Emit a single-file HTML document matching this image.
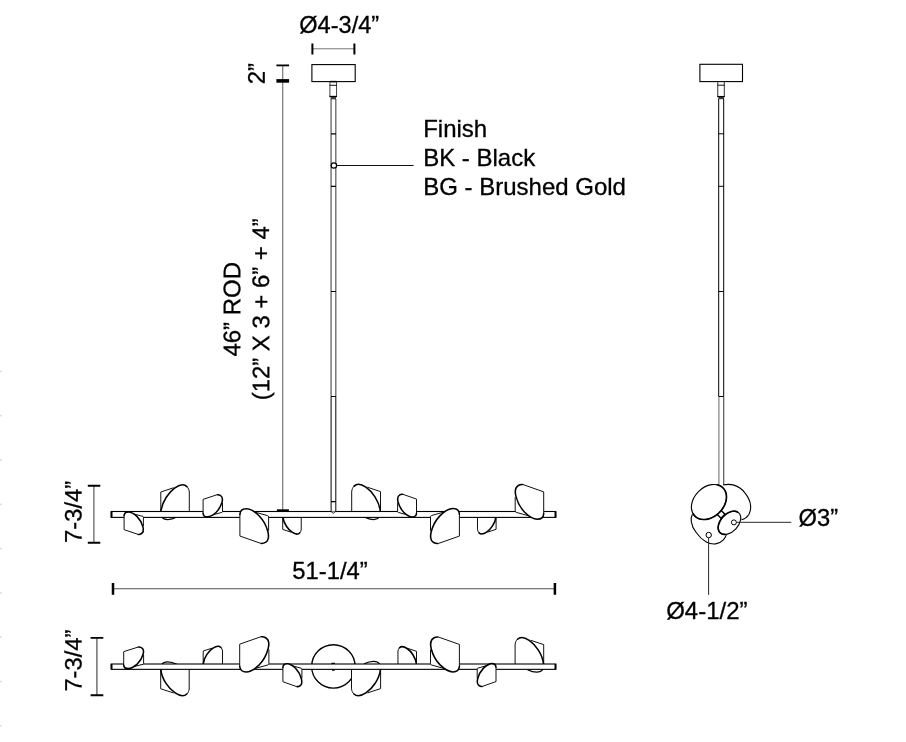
<!DOCTYPE html>
<html lang="en">
<head>
<meta charset="utf-8">
<title>Dimension drawing</title>
<style>
html,body{margin:0;padding:0;background:#fff;}
body{width:906px;height:742px;overflow:hidden;}
svg{display:block;will-change:transform;}
text{font-family:"Liberation Sans",sans-serif;font-size:24px;fill:#000;stroke:#000;stroke-width:0.3px;}
</style>
</head>
<body>
<svg width="906" height="742" viewBox="0 0 906 742">
<rect width="906" height="742" fill="#fff"/>
<rect x="0" y="370.6" width="1.6" height="1.6" fill="#d3d9e0"/><rect x="0" y="414.9" width="1.6" height="1.6" fill="#d3d9e0"/><rect x="0" y="459.2" width="1.6" height="1.6" fill="#d3d9e0"/><rect x="0" y="503.5" width="1.6" height="1.6" fill="#d3d9e0"/><rect x="0" y="547.8" width="1.6" height="1.6" fill="#d3d9e0"/><rect x="0" y="592.1" width="1.6" height="1.6" fill="#d3d9e0"/><rect x="0" y="636.4" width="1.6" height="1.6" fill="#d3d9e0"/><rect x="0" y="680.7" width="1.6" height="1.6" fill="#d3d9e0"/><rect x="0" y="725.0" width="1.6" height="1.6" fill="#d3d9e0"/>
<rect x="311.9" y="64.6" width="43.3" height="17" fill="#fff" stroke="#000" stroke-width="1.1"/>
<path d="M329.9 82V96.5M336.55 82V96.5" stroke="#444" stroke-width="1" fill="none"/>
<path d="M329.6 85.3H336.9" stroke="#111" stroke-width="1" fill="none"/>
<path d="M329.4 96.5H337" stroke="#000" stroke-width="1.3" fill="none"/>
<rect x="330.6" y="97" width="5.4" height="2.3" fill="#3a3a3a"/>
<path d="M330.2 81.6H336.6" stroke="#000" stroke-width="1.5" fill="none"/>
<path d="M331.05 99V396.5M335.85 99V396.5" stroke="#111" stroke-width="0.85" fill="none"/>
<path d="M331.1 396.5V511.5M335.8 396.5V511.5" stroke="#111" stroke-width="1.05" fill="none"/>
<path d="M331 133.8H336M331 186.3H336M331 291.5H336M331 396.5H336M331 501.6H336" stroke="#000" stroke-width="1.2" fill="none"/>
<path d="M160.80 492.00L173.75 487.70C177.74 486.00 180.23 484.80 182.62 484.80C186.21 484.80 188.90 487.80 189.30 492.00L189.30 514.80L176.74 517.10C173.56 518.60 170.77 519.40 167.28 519.40C164.39 519.40 162.39 518.40 161.40 516.60L160.80 513.80Z" fill="#fff" stroke="none"/>
<path d="M160.80 511.80L160.80 492.00L173.75 487.70 M186.91 486.60C188.30 487.90 189.10 489.80 189.30 492.00 M189.30 491.80L189.30 511.80" fill="none" stroke="#111" stroke-width="1.0"/>
<path d="M161.70 516.80C162.99 518.80 164.79 519.50 167.78 519.50C171.06 519.50 173.75 518.60 176.94 517.00" fill="none" stroke="#000" stroke-width="1.25"/>
<path d="M160.90 511.80C161.40 506.80 163.59 501.30 166.28 497.20C168.77 493.30 172.26 489.80 175.25 487.70C177.74 486.00 180.23 484.80 182.62 484.80C184.32 484.80 185.81 485.50 186.91 486.60" fill="none" stroke="#000" stroke-width="1.55" stroke-linecap="round"/>
<path d="M282.70 529.39L291.13 532.20C293.72 533.31 295.34 534.10 296.89 534.10C299.23 534.10 300.98 532.14 301.24 529.39L301.24 514.47L293.07 512.97C291.00 511.99 289.18 511.47 286.91 511.47C285.03 511.47 283.74 512.12 283.09 513.30L282.70 515.13Z" fill="#fff" stroke="none"/>
<path d="M282.70 516.44L282.70 529.39L291.13 532.20 M299.68 532.92C300.59 532.07 301.11 530.83 301.24 529.39 M301.24 529.52L301.24 516.44" fill="none" stroke="#111" stroke-width="1.0"/>
<path d="M282.76 516.44C283.09 519.71 284.51 523.31 286.26 525.99C287.88 528.54 290.15 530.83 292.10 532.20C293.72 533.31 295.34 534.10 296.89 534.10C297.99 534.10 298.97 533.64 299.68 532.92" fill="none" stroke="#000" stroke-width="1.55" stroke-linecap="round"/>
<path d="M380.50 491.60L367.41 487.24C363.38 485.52 360.86 484.30 358.45 484.30C354.82 484.30 352.10 487.34 351.70 491.60L351.70 514.73L364.39 517.07C367.61 518.59 370.43 519.40 373.95 519.40C376.87 519.40 378.89 518.38 379.90 516.56L380.50 513.72Z" fill="#fff" stroke="none"/>
<path d="M380.50 511.69L380.50 491.60L367.41 487.24 M354.12 486.13C352.71 487.44 351.90 489.37 351.70 491.60 M351.70 491.40L351.70 511.69" fill="none" stroke="#111" stroke-width="1.0"/>
<path d="M379.59 516.76C378.28 518.79 376.47 519.50 373.45 519.50C370.13 519.50 367.41 518.59 364.19 516.96" fill="none" stroke="#000" stroke-width="1.25"/>
<path d="M380.40 511.69C379.90 506.62 377.68 501.04 374.96 496.88C372.44 492.92 368.92 489.37 365.90 487.24C363.38 485.52 360.86 484.30 358.45 484.30C356.74 484.30 355.23 485.01 354.12 486.13" fill="none" stroke="#000" stroke-width="1.55" stroke-linecap="round"/>
<path d="M496.10 529.31L487.63 532.11C485.02 533.22 483.39 534.00 481.83 534.00C479.49 534.00 477.73 532.05 477.47 529.31L477.47 514.46L485.67 512.96C487.76 511.99 489.58 511.47 491.86 511.47C493.75 511.47 495.06 512.12 495.71 513.29L496.10 515.11Z" fill="#fff" stroke="none"/>
<path d="M496.10 516.41L496.10 529.31L487.63 532.11 M479.03 532.83C478.12 531.98 477.60 530.74 477.47 529.31 M477.47 529.44L477.47 516.41" fill="none" stroke="#111" stroke-width="1.0"/>
<path d="M496.03 516.41C495.71 519.67 494.28 523.25 492.52 525.92C490.89 528.46 488.61 530.74 486.65 532.11C485.02 533.22 483.39 534.00 481.83 534.00C480.72 534.00 479.75 533.54 479.03 532.83" fill="none" stroke="#000" stroke-width="1.55" stroke-linecap="round"/>
<rect x="111.2" y="511.5" width="444.6" height="5.899999999999977" fill="#fff" stroke="#000" stroke-width="1.1"/><path d="M111.6 511.5V517.4M555.4 511.5V517.4" stroke="#000" stroke-width="1.8" fill="none"/>
<path d="M331 511.5L333.3 513.3L335.6 511.5" stroke="#111" stroke-width="0.9" fill="#fff"/>
<path d="M124.10 515.55C124.23 513.33 125.98 511.90 128.37 511.90C130.49 511.90 132.51 512.94 133.92 513.98L142.73 516.36Q143.40 516.56 143.40 517.24L143.40 528.18C143.74 530.01 143.27 532.61 141.25 533.78C140.37 534.30 139.57 534.50 138.42 534.43L124.10 529.65Z" fill="#fff" stroke="none"/>
<path d="M124.10 515.42L124.10 529.65L138.09 534.40 M133.92 513.98L142.73 516.36Q143.40 516.56 143.40 517.24L143.40 526.23" fill="none" stroke="#111" stroke-width="1.0"/>
<path d="M124.10 515.55C124.23 513.33 125.98 511.90 128.37 511.90C131.16 511.90 134.52 514.05 137.15 516.59C139.57 519.06 141.99 523.30 142.93 526.88C143.74 530.01 143.27 532.61 141.25 533.78C140.37 534.30 139.57 534.50 138.42 534.43" fill="none" stroke="#000" stroke-width="1.55" stroke-linecap="round"/>
<path d="M203.10 513.22C203.24 515.39 204.99 516.80 207.39 516.80C209.52 516.80 211.55 515.78 212.97 514.75L221.82 512.42Q222.50 512.23 222.50 511.55L222.50 500.81C222.84 499.01 222.36 496.46 220.34 495.30C219.46 494.79 218.65 494.60 217.50 494.66L203.10 499.37Z" fill="#fff" stroke="none"/>
<path d="M203.10 513.35L203.10 499.37L217.16 494.70 M212.97 514.75L221.82 512.42Q222.50 512.23 222.50 511.55L222.50 502.73" fill="none" stroke="#111" stroke-width="1.0"/>
<path d="M203.10 513.22C203.24 515.39 204.99 516.80 207.39 516.80C210.20 516.80 213.58 514.69 216.21 512.19C218.65 509.76 221.08 505.60 222.03 502.09C222.84 499.01 222.36 496.46 220.34 495.30C219.46 494.79 218.65 494.60 217.50 494.66" fill="none" stroke="#000" stroke-width="1.55" stroke-linecap="round"/>
<path d="M239.90 514.40C240.10 511.00 242.70 508.80 246.25 508.80C249.40 508.80 252.40 510.40 254.50 512.00L267.60 515.65Q268.60 515.95 268.60 517.00L268.60 533.80C269.10 536.60 268.40 540.60 265.40 542.40C264.10 543.20 262.90 543.50 261.20 543.40L239.90 536.05Z" fill="#fff" stroke="none"/>
<path d="M239.90 514.20L239.90 536.05L260.70 543.35 M254.50 512.00L267.60 515.65Q268.60 515.95 268.60 517.00L268.60 530.80" fill="none" stroke="#111" stroke-width="1.0"/>
<path d="M239.90 514.40C240.10 511.00 242.70 508.80 246.25 508.80C250.40 508.80 255.40 512.10 259.30 516.00C262.90 519.80 266.50 526.30 267.90 531.80C269.10 536.60 268.40 540.60 265.40 542.40C264.10 543.20 262.90 543.50 261.20 543.40" fill="none" stroke="#000" stroke-width="1.55" stroke-linecap="round"/>
<path d="M416.50 513.24C416.37 515.46 414.66 516.90 412.32 516.90C410.24 516.90 408.27 515.85 406.89 514.81L398.26 512.42Q397.60 512.22 397.60 511.54L397.60 500.55C397.27 498.71 397.73 496.10 399.71 494.92C400.56 494.40 401.35 494.20 402.47 494.27L416.50 499.07Z" fill="#fff" stroke="none"/>
<path d="M416.50 513.37L416.50 499.07L402.80 494.30 M406.89 514.81L398.26 512.42Q397.60 512.22 397.60 511.54L397.60 502.51" fill="none" stroke="#111" stroke-width="1.0"/>
<path d="M416.50 513.24C416.37 515.46 414.66 516.90 412.32 516.90C409.59 516.90 406.29 514.74 403.72 512.19C401.35 509.70 398.98 505.45 398.06 501.85C397.27 498.71 397.73 496.10 399.71 494.92C400.56 494.40 401.35 494.20 402.47 494.27" fill="none" stroke="#000" stroke-width="1.55" stroke-linecap="round"/>
<path d="M459.40 514.25C459.20 510.82 456.58 508.60 453.01 508.60C449.83 508.60 446.81 510.21 444.70 511.83L431.51 515.51Q430.50 515.81 430.50 516.87L430.50 533.82C430.00 536.64 430.70 540.67 433.72 542.49C435.03 543.30 436.24 543.60 437.95 543.50L459.40 536.09Z" fill="#fff" stroke="none"/>
<path d="M459.40 514.05L459.40 536.09L438.46 543.45 M444.70 511.83L431.51 515.51Q430.50 515.81 430.50 516.87L430.50 530.79" fill="none" stroke="#111" stroke-width="1.0"/>
<path d="M459.40 514.25C459.20 510.82 456.58 508.60 453.01 508.60C448.83 508.60 443.79 511.93 439.86 515.86C436.24 519.70 432.61 526.25 431.20 531.80C430.00 536.64 430.70 540.67 433.72 542.49C435.03 543.30 436.24 543.60 437.95 543.50" fill="none" stroke="#000" stroke-width="1.55" stroke-linecap="round"/>
<path d="M543.70 513.58C543.50 516.99 540.92 519.20 537.39 519.20C534.27 519.20 531.29 517.60 529.20 515.99L516.19 512.33Q515.20 512.03 515.20 510.98L515.20 494.13C514.70 491.32 515.40 487.31 518.38 485.50C519.67 484.70 520.86 484.40 522.55 484.50L543.70 491.87Z" fill="#fff" stroke="none"/>
<path d="M543.70 513.78L543.70 491.87L523.04 484.55 M529.20 515.99L516.19 512.33Q515.20 512.03 515.20 510.98L515.20 497.14" fill="none" stroke="#111" stroke-width="1.0"/>
<path d="M543.70 513.58C543.50 516.99 540.92 519.20 537.39 519.20C533.27 519.20 528.31 515.89 524.44 511.98C520.86 508.17 517.29 501.65 515.90 496.13C514.70 491.32 515.40 487.31 518.38 485.50C519.67 484.70 520.86 484.40 522.55 484.50" fill="none" stroke="#000" stroke-width="1.55" stroke-linecap="round"/>
<circle cx="333.4" cy="666.4" r="21.7" fill="none" stroke="#000" stroke-width="1.35"/>
<path d="M160.70 688.77L173.65 692.97C177.64 694.63 180.13 695.80 182.52 695.80C186.11 695.80 188.80 692.87 189.20 688.77L189.20 666.49L176.64 664.24C173.46 662.78 170.67 662.00 167.18 662.00C164.29 662.00 162.29 662.97 161.30 664.73L160.70 667.47Z" fill="#fff" stroke="none"/>
<path d="M160.70 669.42L160.70 688.77L173.65 692.97 M186.81 694.04C188.20 692.77 189.00 690.92 189.20 688.77 M189.20 688.96L189.20 669.42" fill="none" stroke="#111" stroke-width="1.0"/>
<path d="M161.60 664.54C162.89 662.58 164.69 661.90 167.68 661.90C170.96 661.90 173.65 662.78 176.84 664.34" fill="none" stroke="#000" stroke-width="1.25"/>
<path d="M160.80 669.42C161.30 674.31 163.49 679.68 166.18 683.69C168.67 687.50 172.16 690.92 175.15 692.97C177.64 694.63 180.13 695.80 182.52 695.80C184.22 695.80 185.71 695.12 186.81 694.04" fill="none" stroke="#000" stroke-width="1.55" stroke-linecap="round"/>
<path d="M203.20 651.01L211.99 648.20C214.69 647.09 216.38 646.30 218.00 646.30C220.44 646.30 222.26 648.26 222.53 651.01L222.53 665.93L214.02 667.43C211.85 668.41 209.96 668.93 207.59 668.93C205.63 668.93 204.28 668.28 203.61 667.10L203.20 665.27Z" fill="#fff" stroke="none"/>
<path d="M203.20 663.96L203.20 651.01L211.99 648.20 M220.91 647.48C221.86 648.33 222.40 649.57 222.53 651.01 M222.53 650.88L222.53 663.96" fill="none" stroke="#111" stroke-width="1.0"/>
<path d="M203.27 663.96C203.61 660.69 205.09 657.09 206.92 654.41C208.61 651.86 210.97 649.57 213.00 648.20C214.69 647.09 216.38 646.30 218.00 646.30C219.15 646.30 220.17 646.76 220.91 647.48" fill="none" stroke="#000" stroke-width="1.55" stroke-linecap="round"/>
<path d="M380.60 688.64L367.37 692.92C363.30 694.61 360.76 695.80 358.32 695.80C354.66 695.80 351.91 692.82 351.50 688.64L351.50 665.97L364.32 663.69C367.58 662.19 370.43 661.40 373.99 661.40C376.94 661.40 378.97 662.39 379.99 664.18L380.60 666.97Z" fill="#fff" stroke="none"/>
<path d="M380.60 668.96L380.60 688.64L367.37 692.92 M353.94 694.01C352.52 692.72 351.71 690.83 351.50 688.64 M351.50 688.84L351.50 668.96" fill="none" stroke="#111" stroke-width="1.0"/>
<path d="M379.68 663.98C378.36 662.00 376.53 661.30 373.48 661.30C370.12 661.30 367.37 662.19 364.12 663.79" fill="none" stroke="#000" stroke-width="1.25"/>
<path d="M380.50 668.96C379.99 673.93 377.75 679.40 375.00 683.47C372.46 687.35 368.90 690.83 365.85 692.92C363.30 694.61 360.76 695.80 358.32 695.80C356.59 695.80 355.06 695.10 353.94 694.01" fill="none" stroke="#000" stroke-width="1.55" stroke-linecap="round"/>
<path d="M416.50 651.31L408.07 648.50C405.48 647.39 403.86 646.60 402.31 646.60C399.97 646.60 398.22 648.56 397.96 651.31L397.96 666.23L406.13 667.73C408.20 668.71 410.02 669.23 412.29 669.23C414.17 669.23 415.46 668.58 416.11 667.40L416.50 665.57Z" fill="#fff" stroke="none"/>
<path d="M416.50 664.26L416.50 651.31L408.07 648.50 M399.52 647.78C398.61 648.63 398.09 649.87 397.96 651.31 M397.96 651.18L397.96 664.26" fill="none" stroke="#111" stroke-width="1.0"/>
<path d="M416.44 664.26C416.11 660.99 414.69 657.39 412.94 654.71C411.32 652.16 409.05 649.87 407.10 648.50C405.48 647.39 403.86 646.60 402.31 646.60C401.21 646.60 400.23 647.06 399.52 647.78" fill="none" stroke="#000" stroke-width="1.55" stroke-linecap="round"/>
<path d="M543.70 644.62L530.70 640.31C526.70 638.60 524.20 637.40 521.80 637.40C518.20 637.40 515.50 640.41 515.10 644.62L515.10 667.49L527.70 669.79C530.90 671.30 533.70 672.10 537.20 672.10C540.10 672.10 542.10 671.10 543.10 669.29L543.70 666.48Z" fill="#fff" stroke="none"/>
<path d="M543.70 664.48L543.70 644.62L530.70 640.31 M517.50 639.21C516.10 640.51 515.30 642.41 515.10 644.62 M515.10 644.42L515.10 664.48" fill="none" stroke="#111" stroke-width="1.0"/>
<path d="M542.80 669.49C541.50 671.50 539.70 672.20 536.70 672.20C533.40 672.20 530.70 671.30 527.50 669.69" fill="none" stroke="#000" stroke-width="1.25"/>
<path d="M543.60 664.48C543.10 659.46 540.90 653.95 538.20 649.84C535.70 645.92 532.20 642.41 529.20 640.31C526.70 638.60 524.20 637.40 521.80 637.40C520.10 637.40 518.60 638.10 517.50 639.21" fill="none" stroke="#000" stroke-width="1.55" stroke-linecap="round"/>
<rect x="111.2" y="664.0" width="444.6" height="5.350000000000023" fill="#fff" stroke="#000" stroke-width="1.1"/><path d="M111.6 664.0V669.35M555.4 664.0V669.35" stroke="#000" stroke-width="1.8" fill="none"/>
<path d="M331.5 663.4H335M332 670.2H334.6" stroke="#000" stroke-width="1.2" fill="none"/>
<path d="M123.70 665.11C123.84 667.23 125.64 668.60 128.10 668.60C130.29 668.60 132.37 667.60 133.82 666.61L142.91 664.34Q143.60 664.15 143.60 663.50L143.60 653.04C143.95 651.30 143.46 648.81 141.38 647.68C140.48 647.19 139.65 647.00 138.47 647.06L123.70 651.64Z" fill="#fff" stroke="none"/>
<path d="M123.70 665.24L123.70 651.64L138.12 647.09 M133.82 666.61L142.91 664.34Q143.60 664.15 143.60 663.50L143.60 654.91" fill="none" stroke="#111" stroke-width="1.0"/>
<path d="M123.70 665.11C123.84 667.23 125.64 668.60 128.10 668.60C130.98 668.60 134.45 666.55 137.15 664.12C139.65 661.75 142.14 657.71 143.11 654.28C143.95 651.30 143.46 648.81 141.38 647.68C140.48 647.19 139.65 647.00 138.47 647.06" fill="none" stroke="#000" stroke-width="1.55" stroke-linecap="round"/>
<path d="M239.70 666.20C239.90 669.66 242.55 671.90 246.16 671.90C249.37 671.90 252.42 670.27 254.55 668.64L267.88 664.93Q268.90 664.63 268.90 663.56L268.90 646.47C269.41 643.62 268.70 639.55 265.64 637.72C264.32 636.91 263.10 636.60 261.37 636.70L239.70 644.18Z" fill="#fff" stroke="none"/>
<path d="M239.70 666.41L239.70 644.18L260.86 636.75 M254.55 668.64L267.88 664.93Q268.90 664.63 268.90 663.56L268.90 649.52" fill="none" stroke="#111" stroke-width="1.0"/>
<path d="M239.70 666.20C239.90 669.66 242.55 671.90 246.16 671.90C250.38 671.90 255.47 668.54 259.44 664.58C263.10 660.71 266.76 654.10 268.19 648.50C269.41 643.62 268.70 639.55 265.64 637.72C264.32 636.91 263.10 636.60 261.37 636.70" fill="none" stroke="#000" stroke-width="1.55" stroke-linecap="round"/>
<path d="M282.90 667.41C283.03 665.16 284.75 663.70 287.10 663.70C289.19 663.70 291.18 664.76 292.57 665.82L301.24 668.24Q301.90 668.44 301.90 669.14L301.90 680.27C302.23 682.13 301.77 684.78 299.78 685.97C298.92 686.50 298.13 686.70 297.00 686.63L282.90 681.76Z" fill="#fff" stroke="none"/>
<path d="M282.90 667.28L282.90 681.76L296.67 686.60 M292.57 665.82L301.24 668.24Q301.90 668.44 301.90 669.14L301.90 678.28" fill="none" stroke="#111" stroke-width="1.0"/>
<path d="M282.90 667.41C283.03 665.16 284.75 663.70 287.10 663.70C289.85 663.70 293.16 665.89 295.74 668.47C298.13 670.99 300.51 675.30 301.44 678.94C302.23 682.13 301.77 684.78 299.78 685.97C298.92 686.50 298.13 686.70 297.00 686.63" fill="none" stroke="#000" stroke-width="1.55" stroke-linecap="round"/>
<path d="M459.40 666.25C459.20 669.68 456.58 671.90 453.01 671.90C449.83 671.90 446.81 670.29 444.70 668.67L431.51 664.99Q430.50 664.69 430.50 663.63L430.50 646.68C430.00 643.86 430.70 639.83 433.72 638.01C435.03 637.20 436.24 636.90 437.95 637.00L459.40 644.41Z" fill="#fff" stroke="none"/>
<path d="M459.40 666.45L459.40 644.41L438.46 637.05 M444.70 668.67L431.51 664.99Q430.50 664.69 430.50 663.63L430.50 649.71" fill="none" stroke="#111" stroke-width="1.0"/>
<path d="M459.40 666.25C459.20 669.68 456.58 671.90 453.01 671.90C448.83 671.90 443.79 668.57 439.86 664.64C436.24 660.80 432.61 654.25 431.20 648.70C430.00 643.86 430.70 639.83 433.72 638.01C435.03 637.20 436.24 636.90 437.95 637.00" fill="none" stroke="#000" stroke-width="1.55" stroke-linecap="round"/>
<path d="M496.00 667.30C495.87 665.05 494.17 663.60 491.84 663.60C489.78 663.60 487.81 664.66 486.44 665.71L477.86 668.12Q477.20 668.32 477.20 669.01L477.20 680.10C476.87 681.95 477.33 684.59 479.30 685.77C480.15 686.30 480.93 686.50 482.05 686.43L496.00 681.58Z" fill="#fff" stroke="none"/>
<path d="M496.00 667.16L496.00 681.58L482.37 686.40 M486.44 665.71L477.86 668.12Q477.20 668.32 477.20 669.01L477.20 678.12" fill="none" stroke="#111" stroke-width="1.0"/>
<path d="M496.00 667.30C495.87 665.05 494.17 663.60 491.84 663.60C489.12 663.60 485.85 665.78 483.29 668.35C480.93 670.86 478.58 675.15 477.66 678.78C476.87 681.95 477.33 684.59 479.30 685.77C480.15 686.30 480.93 686.50 482.05 686.43" fill="none" stroke="#000" stroke-width="1.55" stroke-linecap="round"/>
<rect x="699.9" y="64.3" width="42.6" height="17.3" fill="#fff" stroke="#000" stroke-width="1.1"/>
<path d="M717.75 82V96.5M724.3 82V96.5" stroke="#333" stroke-width="1" fill="none"/>
<path d="M717.4 85.2H724.7" stroke="#111" stroke-width="1" fill="none"/>
<path d="M717.2 96.6H724.8" stroke="#000" stroke-width="1.3" fill="none"/>
<rect x="718.4" y="97" width="5.6" height="2.2" fill="#333"/>
<path d="M718.7 99V396.5M723.7 99V396.5" stroke="#000" stroke-width="1" fill="none"/>
<path d="M718.9 396.5V485" stroke="#8a8a8a" stroke-width="1.3" fill="none"/>
<path d="M723.75 396.5V485" stroke="#333" stroke-width="1" fill="none"/>
<path d="M718.7 133.8H723.7M718.7 186.3H723.7M718.7 291.5H723.7M718.7 396.5H723.7" stroke="#000" stroke-width="1" fill="none"/>
<path d="M723.1 485C727 484.2 731 484.3 733.9 485.1C738.5 486.5 742.3 489.5 744.7 492.6C748 496.6 750.3 501.5 750.6 505.6C750.9 509 750.2 512 749 514.2C747.3 517 744.5 519 741.5 519.8" fill="#fff" stroke="#000" stroke-width="1.1"/>
<path d="M692.4 514.2C691.2 516.5 690.9 519.3 691.3 521.8C691.9 525.5 693.6 529.3 696.2 532.5C698.8 536.2 702 539.5 705.9 541.7C709 543.4 712.4 544.3 715.6 543.9C718.7 543.5 721.3 542 723.1 540.1C724.7 538.5 725.8 536.6 726.4 534.7" fill="#fff" stroke="#000" stroke-width="1.1"/>
<rect x="-2.8" y="-2.8" width="5.6" height="5.6" transform="translate(721 514.2) rotate(-45)" fill="#fff" stroke="#000" stroke-width="1.45"/>
<ellipse cx="708.95" cy="502" rx="19.9" ry="14.8" transform="rotate(-45 708.95 502)" fill="#fff" stroke="#000" stroke-width="1.1"/>
<path d="M717.28 484.82L718.69 485.23L720.01 485.79L721.24 486.48L722.36 487.32L723.36 488.28L724.23 489.36L724.97 490.56L725.57 491.85L726.02 493.24L726.32 494.70L726.47 496.22L726.46 497.80L726.31 499.41L725.99 501.05L725.53 502.69L724.93 504.33L724.18 505.95L723.30 507.53L722.29 509.07L721.16 510.54L719.93 511.94L718.60 513.25L717.19 514.46L715.70 515.56L714.15 516.54L712.56 517.40L710.94 518.11L709.30 518.69L707.65 519.12L706.02 519.40L704.42 519.53L702.85 519.50L701.34 519.32L699.89 518.99L698.52 518.50L697.25 517.88L696.08 517.11L695.02 516.21L694.08 515.18L693.28 514.04" fill="none" stroke="#000" stroke-width="1.6" stroke-linecap="round"/>
<ellipse cx="729.45" cy="522.8" rx="13.6" ry="8.8" transform="rotate(-47 729.45 522.8)" fill="#fff" stroke="#000" stroke-width="1.15"/>
<path d="M724.64 534.41L723.76 534.35L722.94 534.20L722.16 533.96L721.43 533.64L720.77 533.23L720.17 532.75L719.65 532.19L719.20 531.55L718.83 530.85L718.53 530.09L718.32 529.28L718.20 528.41L718.16 527.51L718.21 526.56L718.34 525.59L718.56 524.60L718.86 523.59L719.24 522.58L719.70 521.56L720.23 520.56L720.83 519.58L721.50 518.62L722.23 517.69L723.01 516.80L723.85 515.95L724.72 515.16L725.63 514.43L726.57 513.76L727.54 513.16L728.51 512.63L729.50 512.18L730.48 511.81L731.46 511.52L732.42 511.32L733.36 511.21L734.26 511.19L735.14 511.25L735.96 511.40L736.74 511.64L737.47 511.96" fill="none" stroke="#000" stroke-width="1.6" stroke-linecap="round"/>
<circle cx="733.9" cy="522.4" r="2.5" fill="#fff" stroke="#000" stroke-width="1"/>
<circle cx="708.7" cy="535" r="2.7" fill="#fff" stroke="#000" stroke-width="1"/>
<path d="M736.6 522.3H791.3M708.6 537.8V594.9" stroke="#111" stroke-width="0.9" fill="none"/>
<path d="M312.6 48.8H354.4" stroke="#777" stroke-width="1" fill="none"/>
<path d="M312.4 43.4V54.6M354.4 43.4V54.6" stroke="#000" stroke-width="2" fill="none"/>
<path d="M282.68 65.2V510.4" stroke="#858585" stroke-width="1.35" fill="none"/>
<path d="M276.4 65.4H289.1" stroke="#000" stroke-width="1.8" fill="none"/>
<path d="M276.4 80.9H289.1" stroke="#000" stroke-width="3.6" fill="none"/>
<path d="M276.9 510.5H288.9" stroke="#000" stroke-width="2.4" fill="none"/>
<circle cx="333.9" cy="165.5" r="2.7" fill="#fff" stroke="#000" stroke-width="1.2"/>
<path d="M336.8 165.5H413.6" stroke="#111" stroke-width="1" fill="none"/>
<path d="M93.9 485.8V542.7" stroke="#555" stroke-width="1.15" fill="none"/>
<path d="M87.8 485.8H100.3M87.8 542.7H100.3" stroke="#000" stroke-width="1.9" fill="none"/>
<path d="M96.9 637.9V695.2" stroke="#666" stroke-width="1.4" fill="none"/>
<path d="M90.6 637.9H103.3M90.6 695.2H103.3" stroke="#000" stroke-width="1.9" fill="none"/>
<path d="M113 588.75H555" stroke="#505050" stroke-width="1.2" fill="none"/>
<path d="M113 582.9V594.7M554.9 582.9V594.7" stroke="#000" stroke-width="2.5" fill="none"/>
<g>
<text x="299.2" y="33.1" style="font-size:23.6px">Ø4-3/4”</text>
<text x="423.2" y="137.1">Finish</text>
<text x="423.2" y="166.2">BK - Black</text>
<text x="423.2" y="194.8">BG - Brushed Gold</text>
<text x="292.3" y="579.0" style="font-size:23.8px">51-1/4”</text>
<text x="798.6" y="526" style="font-size:23.7px">Ø3”</text>
<text x="666.2" y="619.1">Ø4-1/2”</text>
<text transform="translate(264.8 84.3) rotate(-90.04)">2”</text>
<text transform="translate(240.2 356.6) rotate(-90.04)">46” ROD</text>
<text transform="translate(269.2 400.3) rotate(-90.04)" style="font-size:23.9px">(12” X 3 + 6” + 4”</text>
<text transform="translate(81.5 543.0) rotate(-90.04)" style="font-size:23.8px">7-3/4”</text>
<text transform="translate(81.5 691.6) rotate(-90.04)" style="font-size:23.7px">7-3/4”</text>
</g>
</svg>
</body>
</html>
